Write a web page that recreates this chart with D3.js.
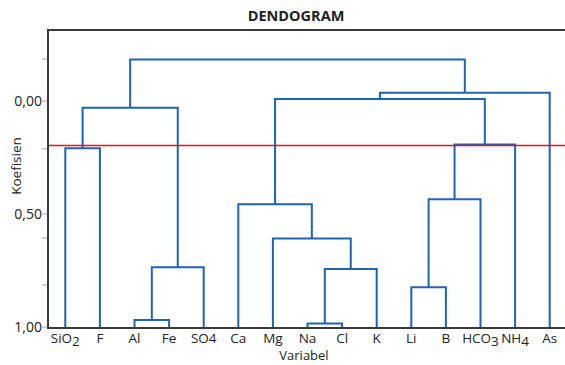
<!DOCTYPE html>
<html><head><meta charset="utf-8">
<script src="https://cdn.jsdelivr.net/npm/d3@7"></script>
<style>body{margin:0;background:#fff}svg{display:block}text{font-family:"Open Sans","Noto Sans",sans-serif;fill:#222}</style>
</head><body>
<svg id="c" width="565" height="365"></svg>
<script>
const leaves = ["SiO2","F","Al","Fe","SO4","Ca","Mg","Na","Cl","K","Li","B","HCO3","NH4","As"];
// merges (scipy-like): indices 0..14 are leaves, 15+ are new clusters
const mergeLeft   = [2, 7, 15, 16, 6, 5, 10, 21, 22, 0, 24, 20, 26, 25];
const mergeRight  = [3, 8, 4, 9, 18, 19, 11, 12, 13, 1, 17, 23, 14, 27];
const mergeHeight = [0.969, 0.984, 0.736, 0.743, 0.608, 0.457, 0.824, 0.435, 0.192, 0.209, 0.030, -0.009, -0.037, -0.184];
const cutLine = 0.197;
const majorTicks = [0, 0.5, 1];
const majorLabels = ["0,00", "0,50", "1,00"];
const minorTicks = [-0.186, 0.212, 0.606, 0.814];
const subs = {SiO2: ["SiO", "2"], HCO3: ["HCO", "3"], NH4: ["NH", "4"]};

const svg = d3.select("#c");
const L = 48, R = 567, T = 30, B = 328;
const x = d3.scalePoint().domain(leaves).range([L, R]).padding(0.5);
const y = d3.scaleLinear().domain([0, 1]).range([101, 327]);

// node positions
const nx = leaves.map(d => x(d)), ny = leaves.map(() => 1);
const blue = "#1f63b3";
const g = svg.append("g");
mergeLeft.forEach((a, i) => {
  const b = mergeRight[i], h = mergeHeight[i];
  const p = d3.path();
  p.moveTo(nx[a], y(ny[a]));
  p.lineTo(nx[a], y(h));
  p.lineTo(nx[b], y(h));
  p.lineTo(nx[b], y(ny[b]));
  g.append("path").attr("d", p.toString()).attr("fill", "none")
    .attr("stroke", blue).attr("stroke-width", 2).attr("stroke-linejoin", "miter");
  nx.push((nx[a] + nx[b]) / 2);
  ny.push(h);
});

// cut line
svg.append("line").attr("x1", L).attr("x2", R).attr("y1", y(cutLine)).attr("y2", y(cutLine))
  .attr("stroke", "#e3151b").attr("stroke-width", 1.5);

// frame
svg.append("path").attr("d", `M${R},${T}H${L}V${B}H${R}`).attr("fill", "none")
  .attr("stroke", "#3a3a3a").attr("stroke-width", 2);

// y ticks
const allTicks = majorTicks.concat(minorTicks);
svg.selectAll(".tk").data(allTicks).enter().append("line")
  .attr("x1", L - 6).attr("x2", L - 1).attr("y1", d => y(d)).attr("y2", d => y(d))
  .attr("stroke", "#aaa").attr("stroke-width", 1);
svg.selectAll(".yl").data(majorTicks).enter().append("text")
  .attr("x", 42).attr("y", d => y(d)).attr("dy", "0.35em").attr("text-anchor", "end")
  .attr("font-size", 14).text((d, i) => majorLabels[i]);

// x labels
leaves.forEach(n => {
  const t = svg.append("text").attr("x", x(n)).attr("y", 343).attr("text-anchor", "middle").attr("font-size", 13.5);
  if (subs[n]) {
    t.append("tspan").text(subs[n][0]);
    t.append("tspan").attr("dy", 3).text(subs[n][1]);
  } else t.text(n);
});

svg.append("text").attr("x", 304).attr("y", 360).attr("text-anchor", "middle").attr("font-size", 13).text("Variabel");
svg.append("text").attr("transform", "translate(21,166) rotate(-90)").attr("text-anchor", "middle")
  .attr("font-size", 13.5).text("Koefisien");
svg.append("text").attr("x", 296).attr("y", 21).attr("text-anchor", "middle").attr("font-size", 14.5)
  .attr("font-weight", "bold").text("DENDOGRAM");
</script>
</body></html>
